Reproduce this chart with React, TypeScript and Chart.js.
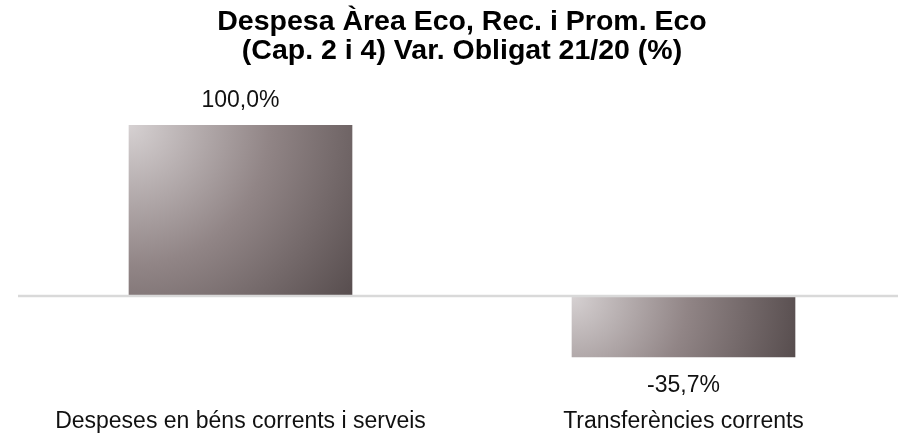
import React, { useEffect, useRef } from "react";
import { Chart, registerables } from "chart.js";

Chart.register(...registerables);

const categories: string[] = ["Despeses en béns corrents i serveis", "Transferències corrents"];
const values: number[] = [100.0, -35.7];
const titleLines: string[] = ["Despesa Àrea Eco, Rec. i Prom. Eco", "(Cap. 2 i 4) Var. Obligat 21/20 (%)"];

const FONT = "'Liberation Sans', Arial, sans-serif";

const gradientPlugin = {
  id: "barGradient",
  beforeDatasetsDraw(chart: any) {
    const ctx = chart.ctx;
    const meta = chart.getDatasetMeta(0);
    meta.data.forEach((el: any) => {
      const left = el.x - el.width / 2;
      const right = el.x + el.width / 2;
      const top = Math.min(el.y, el.base);
      const bottom = Math.max(el.y, el.base);
      const r = Math.hypot(right - left, bottom - top);
      const g = ctx.createRadialGradient(left, top, 0, left, top, r);
      g.addColorStop(0, "#d6d1d2");
      g.addColorStop(0.5, "#918586");
      g.addColorStop(1, "#574d4e");
      el.options = Object.assign({}, el.options, { backgroundColor: g });
    });
  },
};

const zeroLinePlugin = {
  id: "zeroLine",
  afterDatasetsDraw(chart: any) {
    const ctx = chart.ctx;
    const y = chart.scales.y.getPixelForValue(0);
    ctx.save();
    ctx.strokeStyle = "#d9d9d9";
    ctx.lineWidth = 2.6;
    ctx.beginPath();
    ctx.moveTo(18, y);
    ctx.lineTo(chart.width, y);
    ctx.stroke();
    ctx.restore();
  },
};

const labelPlugin = {
  id: "valueLabels",
  afterDatasetsDraw(chart: any) {
    const ctx = chart.ctx;
    const meta = chart.getDatasetMeta(0);
    ctx.save();
    ctx.font = `23px ${FONT}`;
    ctx.fillStyle = "#111111";
    ctx.textAlign = "center";
    ctx.textBaseline = "middle";
    meta.data.forEach((el: any, i: number) => {
      const v = values[i];
      const txt = v.toFixed(1).replace(".", ",") + "%";
      const y = v >= 0 ? el.y - 25 : el.y + 29;
      ctx.fillText(txt, el.x, y);
    });
    ctx.restore();
  },
};

export default function App() {
  const ref = useRef<HTMLCanvasElement | null>(null);
  useEffect(() => {
    document.body.style.margin = "0";
    if (!ref.current) return;
    const chart = new Chart(ref.current, {
      type: "bar",
      data: {
        labels: categories,
        datasets: [
          {
            data: values,
            backgroundColor: "#918586",
            borderWidth: 0,
            barThickness: 223,
          },
        ],
      },
      options: {
        animation: false,
        responsive: false,
        maintainAspectRatio: false,
        devicePixelRatio: 1,
        layout: { padding: { left: 19, right: 0, top: 0, bottom: -6 } },
        plugins: {
          legend: { display: false },
          tooltip: { enabled: false },
          title: {
            display: true,
            text: titleLines,
            color: "#000000",
            font: { family: FONT, size: 28.5, weight: "bold", lineHeight: 1.04 },
            padding: { top: 7, bottom: 42 },
          },
        },
        scales: {
          x: {
            grid: { display: false, drawTicks: false },
            border: { display: false },
            ticks: {
              color: "#111111",
              font: { family: FONT, size: 23 },
              padding: 9,
              maxRotation: 0,
              autoSkip: false,
            },
          },
          y: {
            display: false,
            min: -60,
            max: 110,
          },
        },
      },
      plugins: [gradientPlugin, zeroLinePlugin, labelPlugin],
    });
    return () => chart.destroy();
  }, []);
  return (
    <div style={{ width: "898px", height: "438px", overflow: "hidden", position: "relative" }}>
      <canvas ref={ref} width={905} height={438} style={{ display: "block" }} />
    </div>
  );
}
